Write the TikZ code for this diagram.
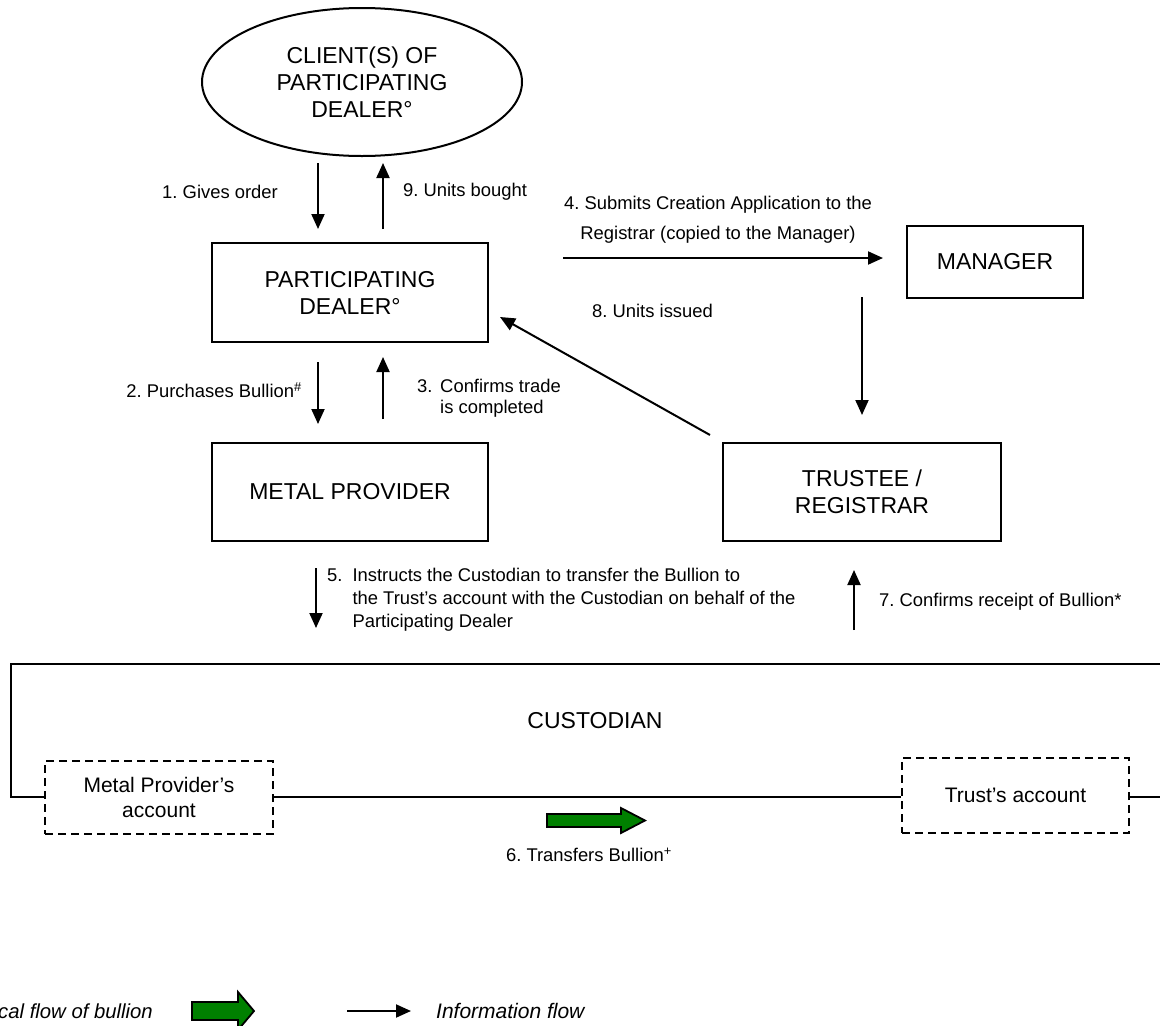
\documentclass[tikz,border=0pt]{standalone}
\usepackage{fontspec}
\setmainfont{Liberation Sans}
\usetikzlibrary{arrows.meta,shapes.geometric}
\definecolor{bullion}{RGB}{0,128,0}
\newcommand\fontBig{\fontsize{23}{27}\selectfont}
\newcommand\fontMid{\fontsize{21}{25}\selectfont}
\newcommand\fontSmall{\fontsize{18.4}{22}\selectfont}
\begin{document}
\frenchspacing
\begin{tikzpicture}[x=1pt,y=-1pt,
  box/.style={draw,line width=2pt,inner sep=0pt,align=center,font=\fontBig},
  dbox/.style={draw,line width=2pt,dash pattern=on 8pt off 5pt,inner sep=0pt,align=center,font=\fontMid},
  lbl/.style={inner sep=0pt,font=\fontSmall},
  arr/.style={line width=2pt,-{Triangle[length=15pt,width=13pt]}},
  flow/.style={draw=black,line width=1.8pt,fill=bullion,line join=miter}]
\useasboundingbox (0,0) rectangle (1160,1026);

% main nodes
\node[draw,ellipse,line width=2pt,inner sep=0pt,minimum width=320,minimum height=148,align=center,font=\fontBig] (client) at (362,82) {CLIENT(S) OF\\PARTICIPATING\\DEALER°};
\node[box,minimum width=276,minimum height=99] (pd) at (350,292.5) {PARTICIPATING\\DEALER°};
\node[box,minimum width=176,minimum height=72] (mg) at (995,262) {MANAGER};
\node[box,minimum width=276,minimum height=98] (mp) at (350,492) {METAL PROVIDER};
\node[box,minimum width=278,minimum height=98] (tr) at (862,492) {TRUSTEE /\\REGISTRAR};

% custodian
\node[inner sep=0pt,font=\fontBig] (cust) at (595,721) {CUSTODIAN};
\node[dbox,minimum width=228,minimum height=73] (mpa) at (159,797.5) {Metal Provider’s\\account};
\node[dbox,minimum width=227,minimum height=75] (ta) at (1015.5,795.5) {Trust’s account};
\coordinate (cTR) at (1160,664);
\coordinate (cTL) at (11,664);
\coordinate (cBL) at (11,797);
\coordinate (cBR) at (1160,797);
\draw[line width=2pt] (cTR) -- (cTL) -- (cBL) -- (mpa.west |- cBL);
\draw[line width=2pt] (mpa.east |- cBL) -- (ta.west |- cBL);
\draw[line width=2pt] (ta.east |- cBL) -- (cBR);

% arrow end points
\coordinate (a1s) at (318,163);  \coordinate (a1e) at (318,229);
\coordinate (a9s) at (383,229);  \coordinate (a9e) at (383,163);
\coordinate (a2s) at (318,362);  \coordinate (a2e) at (318,424);
\coordinate (a3s) at (383,419);  \coordinate (a3e) at (383,357);
\coordinate (a4s) at (563,258);  \coordinate (a4e) at (883,258);
\coordinate (ams) at (862,297);  \coordinate (ame) at (862,415);
\coordinate (a8s) at (710,435);  \coordinate (a8e) at (500,317);
\coordinate (a5s) at (316,568);  \coordinate (a5e) at (316,628);
\coordinate (a7s) at (854,630);  \coordinate (a7e) at (854,570);

\draw[arr] (a1s) -- (a1e);
\draw[arr] (a9s) -- (a9e);
\draw[arr] (a2s) -- (a2e);
\draw[arr] (a3s) -- (a3e);
\draw[arr] (a4s) -- (a4e);
\draw[arr] (ams) -- (ame);
\draw[arr] (a8s) -- (a8e);
\draw[arr] (a5s) -- (a5e);
\draw[arr] (a7s) -- (a7e);

% labels
\node[lbl,anchor=east] (l1) at (278,192) {1. Gives order};
\node[lbl,anchor=west] (l9) at (403,192) {9. Units bought};
\node[lbl,align=center,font=\fontsize{18.4}{30}\selectfont] (l4) at (718,220) {4. Submits Creation Application to the\\Registrar (copied to the Manager)};
\node[lbl,anchor=west] (l8) at (592,311) {8. Units issued};
\node[lbl,anchor=east] (l2) at (302,390) {2. Purchases Bullion\textsuperscript{\#}};
\node[lbl,anchor=west,font=\fontsize{18.4}{21}\selectfont] (l3) at (417,398.5) {\begin{tabular}{@{}l@{\hspace{7.7pt}}l@{}}3.&Confirms trade\\&is completed\end{tabular}};
\node[lbl,anchor=west,font=\fontsize{18.4}{23}\selectfont] (l5) at (327,600) {\begin{tabular}{@{}l@{\hspace{10pt}}l@{}}5.&Instructs the Custodian to transfer the Bullion to\\&the Trust’s account with the Custodian on behalf of the\\&Participating Dealer\end{tabular}};
\node[lbl,anchor=west] (l7) at (879,602) {7. Confirms receipt of Bullion*};
\node[lbl] (l6) at (589,855) {6. Transfers Bullion\textsuperscript{+}};

% physical transfer arrow
\draw[flow] (547,814) -- (621,814) -- (621,808) -- (645,820.5) -- (621,833) -- (621,827) -- (547,827) -- cycle;

% legend
\node[inner sep=0pt,anchor=east,font=\fontsize{20.3}{24}\selectfont\itshape] (lg1) at (153,1011) {cal flow of bullion};
\draw[flow] (192,1002) -- (238,1002) -- (238,992) -- (254,1011) -- (238,1030) -- (238,1020) -- (192,1020) -- cycle;
\coordinate (lgs) at (347,1011); \coordinate (lge) at (411,1011);
\draw[arr] (lgs) -- (lge);
\node[inner sep=0pt,anchor=west,font=\fontsize{21}{25}\selectfont\itshape] (lg2) at (436,1011) {Information flow};
\end{tikzpicture}
\end{document}
